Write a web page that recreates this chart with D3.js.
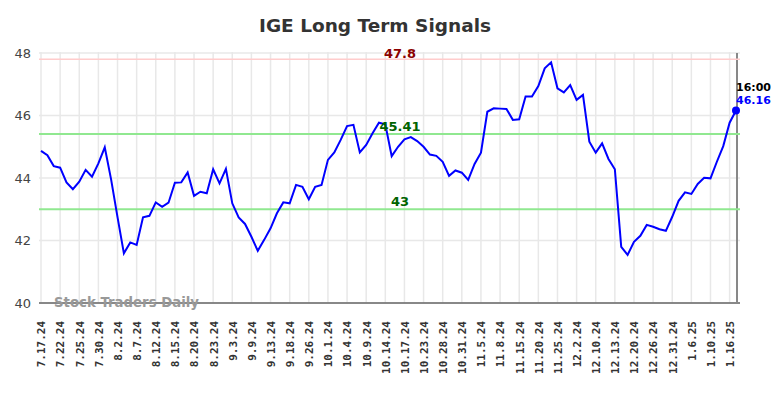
<!DOCTYPE html>
<html>
<head>
<meta charset="utf-8">
<script src="https://cdn.jsdelivr.net/npm/d3@7"></script>
<style>
  body { margin: 0; background: #fff; }
  svg { display: block; }
</style>
</head>
<body>
<svg id="chart" width="784" height="398"></svg>
<script>
// closing prices, one per trading day in the chart
var prices = [
  44.87, 44.73, 44.38, 44.33, 43.86, 43.64, 43.88, 44.26, 44.04, 44.47,
  44.98, 43.95, 42.75, 41.59, 41.94, 41.86, 42.74, 42.79, 43.22, 43.08,
  43.21, 43.85, 43.86, 44.18, 43.43, 43.56, 43.51, 44.28, 43.83, 44.29,
  43.19, 42.74, 42.53, 42.12, 41.67, 42.02, 42.39, 42.87, 43.22, 43.19,
  43.78, 43.72, 43.32, 43.72, 43.78, 44.58, 44.82, 45.22, 45.66, 45.70,
  44.82, 45.06, 45.43, 45.77, 45.72, 44.70, 45.00, 45.24, 45.31, 45.18,
  45.00, 44.75, 44.71, 44.52, 44.07, 44.24, 44.17, 43.94, 44.45, 44.81,
  46.12, 46.23, 46.22, 46.21, 45.86, 45.88, 46.61, 46.61, 46.94, 47.51,
  47.70, 46.87, 46.74, 46.97, 46.50, 46.66, 45.16, 44.81, 45.11, 44.61,
  44.28, 41.80, 41.54, 41.96, 42.15, 42.50, 42.44, 42.36, 42.31, 42.76,
  43.27, 43.54, 43.49, 43.81, 44.01, 43.99, 44.52, 45.02, 45.77, 46.16
];

// one label every 3 trading days
var tickLabels = [
  "7.17.24", "7.22.24", "7.25.24", "7.30.24", "8.2.24", "8.7.24", "8.12.24",
  "8.15.24", "8.20.24", "8.23.24", "9.3.24", "9.9.24", "9.13.24", "9.18.24",
  "9.26.24", "10.1.24", "10.4.24", "10.9.24", "10.14.24", "10.17.24",
  "10.23.24", "10.28.24", "10.31.24", "11.5.24", "11.8.24", "11.15.24",
  "11.20.24", "11.25.24", "12.2.24", "12.10.24", "12.13.24", "12.20.24",
  "12.26.24", "12.31.24", "1.6.25", "1.10.25", "1.16.25"
];
var tickEvery = 3;

var yTicks = [40, 42, 44, 46, 48];

// signal levels
var levels = [47.8, 45.41, 43];
var levelColors = ["#ffcccc", "#90e890", "#90e890"];
var levelTextColors = ["#8b0000", "#006400", "#006400"];

var lastTime = "16:00";

var svg = d3.select("#chart");
// plot box (note: "top" is reserved on window, so use other names)
var plotL = 41, plotR = 736, plotT = 53, plotB = 303;

var x = d3.scaleLinear().domain([0, prices.length - 1]).range([plotL, plotR]);
var y = d3.scaleLinear().domain([40, 48]).range([plotB, plotT]);

var tickIdx = tickLabels.map(function(d, i) { return i * tickEvery; });

// title
svg.append("text")
  .attr("x", 375).attr("y", 32)
  .attr("text-anchor", "middle")
  .style("font", "bold 18.5px 'DejaVu Sans', sans-serif")
  .style("fill", "#333")
  .text("IGE Long Term Signals");

// grid
var grid = svg.append("g");
grid.selectAll(".vg").data(tickIdx).enter().append("line")
  .attr("x1", function(d) { return x(d); }).attr("x2", function(d) { return x(d); })
  .attr("y1", plotT - 1).attr("y2", plotB)
  .style("stroke", "#e8e8e8").style("stroke-width", 1.5);
grid.selectAll(".hg").data(yTicks).enter().append("line")
  .attr("x1", plotL - 2).attr("x2", plotR + 4)
  .attr("y1", function(d) { return y(d); }).attr("y2", function(d) { return y(d); })
  .style("stroke", "#e8e8e8").style("stroke-width", 1.5);

// y axis labels
var yAxis = d3.axisLeft(y).tickValues(yTicks).tickSize(0).tickPadding(8);
var gy = svg.append("g").attr("transform", "translate(" + (plotL - 2) + ",0)").call(yAxis);
gy.select(".domain").remove();
gy.selectAll("text")
  .style("font", "13px 'DejaVu Sans', sans-serif")
  .style("fill", "#444");

// x axis
var xAxis = d3.axisBottom(x).tickValues(tickIdx).tickSize(0)
  .tickFormat(function(d) { return tickLabels[d / tickEvery]; });
var gx = svg.append("g").attr("transform", "translate(0," + plotB + ")").call(xAxis);
gx.select(".domain").remove();
gx.selectAll("text")
  .attr("transform", "rotate(-90)")
  .attr("x", -18).attr("y", 0).attr("dy", "0.35em")
  .style("text-anchor", "end")
  .style("font", "bold 11px 'DejaVu Sans Mono', monospace")
  .style("fill", "#333");

// bottom and right axis lines
svg.append("line")
  .attr("x1", plotL - 2).attr("x2", plotR + 4)
  .attr("y1", plotB).attr("y2", plotB)
  .style("stroke", "#666").style("stroke-width", 1.5);
svg.append("line")
  .attr("x1", plotR + 1).attr("x2", plotR + 1)
  .attr("y1", plotT).attr("y2", plotB)
  .style("stroke", "#888").style("stroke-width", 2);

// signal lines
levels.forEach(function(v, i) {
  svg.append("line")
    .attr("x1", plotL - 2).attr("x2", plotR + 4)
    .attr("y1", y(v)).attr("y2", y(v))
    .style("stroke", levelColors[i]).style("stroke-width", i === 0 ? 1.5 : 2);
});

// watermark
svg.append("text")
  .attr("x", 54).attr("y", 307)
  .style("font", "bold 13.3px 'DejaVu Sans', sans-serif")
  .style("fill", "#999")
  .text("Stock Traders Daily");

// price line
var line = d3.line()
  .x(function(d, i) { return x(i); })
  .y(function(d) { return y(d); });
svg.append("path")
  .datum(prices)
  .attr("d", line)
  .style("fill", "none")
  .style("stroke", "#0000ff")
  .style("stroke-width", 2);

// level labels
var labelDy = [-1, -3, -3];
levels.forEach(function(v, i) {
  svg.append("text")
    .attr("x", 400).attr("y", y(v) + labelDy[i])
    .attr("text-anchor", "middle")
    .style("font", "bold 13px 'DejaVu Sans', sans-serif")
    .style("fill", levelTextColors[i])
    .text(String(v));
});

// last point marker
var last = prices.length - 1;
svg.append("circle")
  .attr("cx", x(last)).attr("cy", y(prices[last]))
  .attr("r", 4)
  .style("fill", "#0000ff");
svg.append("text")
  .attr("x", x(last)).attr("y", 91)
  .style("font", "bold 11px 'DejaVu Sans', sans-serif")
  .style("fill", "#000")
  .text(lastTime);
svg.append("text")
  .attr("x", x(last)).attr("y", 104)
  .style("font", "bold 11px 'DejaVu Sans', sans-serif")
  .style("fill", "#0000ff")
  .text(prices[last].toFixed(2));
</script>
</body>
</html>
